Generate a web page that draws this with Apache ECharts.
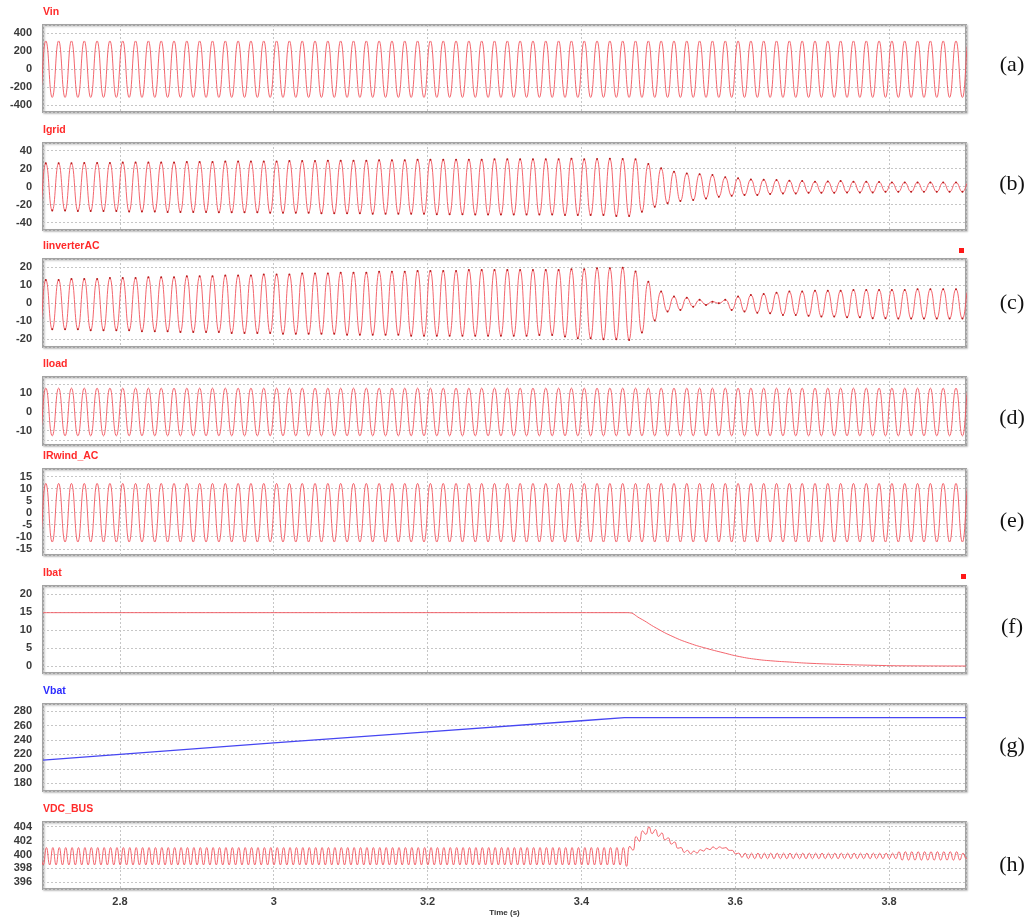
<!DOCTYPE html>
<html>
<head>
<meta charset="utf-8">
<script src="https://cdn.jsdelivr.net/npm/echarts@6/dist/echarts.min.js"></script>
<style>html,body{margin:0;background:#fff}#main{width:1032px;height:922px}</style>
</head>
<body>
<div id="main"></div>
<script>
var chartDom = document.getElementById('main');
var myChart = echarts.init(chartDom);
var option;

// panel names and tags
var panelNames = ['Vin', 'Igrid', 'IinverterAC', 'Iload', 'IRwind_AC', 'Ibat', 'Vbat', 'VDC_BUS'];
var panelTags = ['(a)', '(b)', '(c)', '(d)', '(e)', '(f)', '(g)', '(h)'];

// 60 Hz waveforms: peak and following trough of every cycle, first peak at acStart
var acStart = 2.687;
var acHalf = 1 / 120;

var vinHi = [
  315, 315, 315, 315, 315, 315, 315, 315, 315, 315, 315, 315, 315, 315, 315, 315, 315, 315, 315, 315,
  315, 315, 315, 315, 315, 315, 315, 315, 315, 315, 315, 315, 315, 315, 315, 315, 315, 315, 315, 315,
  315, 315, 315, 315, 315, 315, 315, 315, 315, 315, 315, 315, 315, 315, 315, 315, 315, 315, 315, 315,
  315, 315, 315, 315, 315, 315, 315, 315, 315, 315, 315, 315, 315, 315
];
var vinLo = [
  -312, -312, -312, -312, -312, -312, -312, -312, -312, -312, -312, -312, -312, -312, -312, -312, -312, -312, -312, -312,
  -312, -312, -312, -312, -312, -312, -312, -312, -312, -312, -312, -312, -312, -312, -312, -312, -312, -312, -312, -312,
  -312, -312, -312, -312, -312, -312, -312, -312, -312, -312, -312, -312, -312, -312, -312, -312, -312, -312, -312, -312,
  -312, -312, -312, -312, -312, -312, -312, -312, -312, -312, -312, -312, -312, -312
];

var igridHi = [
  26,
  26, 26, 26, 26.5, 26.5, 26.5, 27, 27, 27, 27,
  27, 27.5, 27.5, 27.5, 28, 28, 28, 28, 28, 28.5,
  28.5, 28.5, 29, 29, 29, 29, 29.5, 29.5, 29.5, 30,
  30, 30, 30, 30, 30, 30.5, 30.5, 30.5, 30.5,
  30.4, 30.4, 31, 30.4, 30.7, 31, 30.7, 30.4,
  25.2, 20.4, 16.7, 14.8, 14, 13, 10.4, 9.3, 8.1, 7.8, 7.4, 6.7, 6.3, 5.6, 5.9, 6.3, 5.6, 5.6, 5.2, 4.8,
  4.8, 4.8, 4.8, 4.8, 4.8,
  4.8
];
var igridLo = [
  -26.5,
  -26.5, -26.5, -27, -27, -27, -27, -27.5, -27.5, -27.5, -28,
  -28, -28, -28, -28.5, -28.5, -28.5, -28.5, -29, -29, -29,
  -29, -29.5, -29.5, -29.5, -29.5, -30, -30, -30, -30, -30,
  -30.5, -30.5, -30.5, -31, -31, -31, -31, -31, -31,
  -31, -31.5, -31.5, -31.5, -31.5, -32.6, -32.6,
  -27.8, -22.2, -18.5, -15.9, -14.8, -13, -11.1, -10, -9.3, -9.3, -8.1, -7.4, -7.4, -6.7, -6.7, -6.7,
  -6.3, -6.3, -6.3, -5.6, -5.6, -5.6, -5.6, -5.6, -5.6, -5.6,
  -5.6
];

var iinvHi = [
  13,
  13, 13, 13.5, 13.5, 13.5, 14, 14, 14, 14.5, 14.5,
  14.5, 15, 15, 15, 15.5, 15.5, 15.5, 16, 16, 16,
  16.5, 16.5, 16.5, 17, 17, 17, 17.5, 17.5, 17.5, 18,
  18, 18, 18, 18.5, 18.5, 18.5, 18.5, 18.5, 18.5,
  18.5, 18.5, 18.9, 18.9, 19.4, 19.4, 19.8, 17.6,
  12, 6.5, 3.7, 3.1, 1.9, 0.9, 1.9, 3.7, 4.6, 5.2, 5.9, 6.5, 6.5, 6.9, 6.9, 6.9, 7.4, 7.4, 7.4, 7.4,
  7.4, 7.8, 7.8, 7.8, 7.8,
  7.8
];
var iinvLo = [
  -14.5,
  -14.5, -14.5, -14.5, -15, -15, -15, -15, -15.5, -15.5, -15.5,
  -16, -16, -16, -16, -16.5, -16.5, -16.5, -16.5, -17, -17,
  -17, -17, -17, -17.5, -17.5, -17.5, -17.5, -17.5, -18, -18,
  -18, -18, -18, -18, -18, -18, -18, -18, -17.6,
  -17.6, -18.5, -19.4, -19.4, -20, -20, -20.4,
  -16.3, -9.6, -4.6, -3.7, -1.9, -0.9, 0, -3.7, -4.6, -5.2, -5.6, -6.5, -6.5, -7, -7.4, -7.4,
  -7.8, -7.8, -8.3, -8.3, -8.5, -8.5, -8.5, -8.5, -8.5, -8.5,
  -8.5
];

var iloadHi = [
  12.8, 12.8, 12.8, 12.8, 12.8, 12.8, 12.8, 12.8, 12.8, 12.8, 12.8, 12.8, 12.8, 12.8, 12.8, 12.8, 12.8, 12.8, 12.8, 12.8,
  12.8, 12.8, 12.8, 12.8, 12.8, 12.8, 12.8, 12.8, 12.8, 12.8, 12.8, 12.8, 12.8, 12.8, 12.8, 12.8, 12.8, 12.8, 12.8, 12.8,
  12.8, 12.8, 12.8, 12.8, 12.8, 12.8, 12.8, 12.8, 12.8, 12.8, 12.8, 12.8, 12.8, 12.8, 12.8, 12.8, 12.8, 12.8, 12.8, 12.8,
  12.8, 12.8, 12.8, 12.8, 12.8, 12.8, 12.8, 12.8, 12.8, 12.8, 12.8, 12.8, 12.8, 12.8
];
var iloadLo = [
  -12.8, -12.8, -12.8, -12.8, -12.8, -12.8, -12.8, -12.8, -12.8, -12.8, -12.8, -12.8, -12.8, -12.8, -12.8, -12.8, -12.8, -12.8, -12.8, -12.8,
  -12.8, -12.8, -12.8, -12.8, -12.8, -12.8, -12.8, -12.8, -12.8, -12.8, -12.8, -12.8, -12.8, -12.8, -12.8, -12.8, -12.8, -12.8, -12.8, -12.8,
  -12.8, -12.8, -12.8, -12.8, -12.8, -12.8, -12.8, -12.8, -12.8, -12.8, -12.8, -12.8, -12.8, -12.8, -12.8, -12.8, -12.8, -12.8, -12.8, -12.8,
  -12.8, -12.8, -12.8, -12.8, -12.8, -12.8, -12.8, -12.8, -12.8, -12.8, -12.8, -12.8, -12.8, -12.8
];

var irwindHi = [
  12.2, 12.2, 12.2, 12.2, 12.2, 12.2, 12.2, 12.2, 12.2, 12.2, 12.2, 12.2, 12.2, 12.2, 12.2, 12.2, 12.2, 12.2, 12.2, 12.2,
  12.2, 12.2, 12.2, 12.2, 12.2, 12.2, 12.2, 12.2, 12.2, 12.2, 12.2, 12.2, 12.2, 12.2, 12.2, 12.2, 12.2, 12.2, 12.2, 12.2,
  12.2, 12.2, 12.2, 12.2, 12.2, 12.2, 12.2, 12.2, 12.2, 12.2, 12.2, 12.2, 12.2, 12.2, 12.2, 12.2, 12.2, 12.2, 12.2, 12.2,
  12.2, 12.2, 12.2, 12.2, 12.2, 12.2, 12.2, 12.2, 12.2, 12.2, 12.2, 12.2, 12.2, 12.2
];
var irwindLo = [
  -12.2, -12.2, -12.2, -12.2, -12.2, -12.2, -12.2, -12.2, -12.2, -12.2, -12.2, -12.2, -12.2, -12.2, -12.2, -12.2, -12.2, -12.2, -12.2, -12.2,
  -12.2, -12.2, -12.2, -12.2, -12.2, -12.2, -12.2, -12.2, -12.2, -12.2, -12.2, -12.2, -12.2, -12.2, -12.2, -12.2, -12.2, -12.2, -12.2, -12.2,
  -12.2, -12.2, -12.2, -12.2, -12.2, -12.2, -12.2, -12.2, -12.2, -12.2, -12.2, -12.2, -12.2, -12.2, -12.2, -12.2, -12.2, -12.2, -12.2, -12.2,
  -12.2, -12.2, -12.2, -12.2, -12.2, -12.2, -12.2, -12.2, -12.2, -12.2, -12.2, -12.2, -12.2, -12.2
];

// DC bus ripple (120 Hz): peak and trough of every ripple cycle
var dcStart = 2.69617;
var dcHalf = 1 / 240;
var vdcHi = [
  401, 401, 401, 401, 401, 401, 401, 401, 401, 401, 401, 401, 401, 401, 401, 401, 401, 401, 401, 401,
  401, 401, 401, 401, 401, 401, 401, 401, 401, 401, 401, 401, 401, 401, 401, 401, 401, 401, 401, 401,
  401, 401, 401, 401, 401, 401, 401, 401, 401, 401, 401, 401, 401, 401, 401, 401, 401, 401, 401, 401,
  401, 401, 401, 401, 401, 401, 401, 401, 401, 401, 401, 401, 401, 401, 401, 401, 401, 401, 401, 401,
  401, 401, 401, 401, 401, 401, 401, 401, 401, 401, 401, 401,
  401.2, 402.6, 403.4, 404.0, 403.6, 403.1, 402.4, 401.8, 401.0, 400.6, 400.5, 400.7, 400.9, 401.1, 401.1, 401.0, 400.6, 400.2,
  400.2, 400.2, 400.2, 400.2, 400.2, 400.2, 400.2, 400.2, 400.2, 400.2, 400.2, 400.2,
  400.2, 400.2, 400.2, 400.2, 400.2, 400.2, 400.2, 400.2, 400.2, 400.2, 400.2, 400.2,
  400.4, 400.4, 400.4, 400.4, 400.4, 400.4, 400.4, 400.4, 400.4, 400.4, 400.2, 400.2
];
var vdcLo = [
  398.5, 398.5, 398.5, 398.5, 398.5, 398.5, 398.5, 398.5, 398.5, 398.5, 398.5, 398.5, 398.5, 398.5, 398.5, 398.5, 398.5, 398.5, 398.5, 398.5,
  398.5, 398.5, 398.5, 398.5, 398.5, 398.5, 398.5, 398.5, 398.5, 398.5, 398.5, 398.5, 398.5, 398.5, 398.5, 398.5, 398.5, 398.5, 398.5, 398.5,
  398.5, 398.5, 398.5, 398.5, 398.5, 398.5, 398.5, 398.5, 398.5, 398.5, 398.5, 398.5, 398.5, 398.5, 398.5, 398.5, 398.5, 398.5, 398.5, 398.5,
  398.5, 398.5, 398.5, 398.5, 398.5, 398.5, 398.5, 398.5, 398.5, 398.5, 398.5, 398.5, 398.5, 398.5, 398.5, 398.5, 398.5, 398.5, 398.5, 398.5,
  398.5, 398.5, 398.5, 398.5, 398.5, 398.5, 398.5, 398.5, 398.5, 398.5, 398.5, 398.3,
  400.6, 401.9, 402.9, 403.0, 402.6, 402.1, 401.5, 400.9, 400.3, 400.1, 400.2, 400.5, 400.7, 400.8, 400.9, 400.6, 400.1, 399.6,
  399.4, 399.4, 399.4, 399.4, 399.4, 399.4, 399.4, 399.4, 399.4, 399.4, 399.4, 399.4,
  399.4, 399.4, 399.4, 399.4, 399.4, 399.4, 399.4, 399.4, 399.4, 399.4, 399.4, 399.4,
  399.2, 399.2, 399.2, 399.2, 399.2, 399.2, 399.2, 399.2, 399.2, 399.2, 399.4, 399.4
];

// battery current and voltage
var ibatTime = [2.7, 3.46, 3.476, 3.4975, 3.519, 3.5408, 3.5625, 3.5841, 3.6058, 3.6275, 3.6491, 3.6708, 3.6926, 3.7359, 3.7792, 3.8226, 3.9];
var ibatValue = [14.8, 14.8, 13.25, 10.5, 8.15, 6.3, 4.9, 3.7, 2.6, 1.85, 1.4, 1.1, 0.8, 0.45, 0.2, 0.05, 0];
var vbatTime = [2.7, 2.8, 3.0, 3.2, 3.4, 3.456, 3.9];
var vbatValue = [212, 220, 236, 251, 266.5, 270.8, 270.8];

function wave(start, half, hi, lo) {
  var pts = [];
  for (var k = 0; k < hi.length; k++) {
    pts.push([start + 2 * k * half, hi[k]]);
    pts.push([start + (2 * k + 1) * half, lo[k]]);
  }
  return pts;
}
function pairs(t, v) {
  return t.map(function (x, i) { return [x, v[i]]; });
}

var RED = '#f2535c';
var BLUE = '#4646f2';
var font = 'Liberation Sans';

// panel layout (pixels) and axis windows
var layout = [
  { top: 25, height: 87, min: -474, max: 492, split: 5, tag: 65 },
  { top: 143, height: 87, min: -48.1, max: 48.6, split: 5, tag: 184 },
  { top: 259, height: 88, min: -24.3, max: 24.6, split: 5, tag: 303 },
  { top: 377, height: 68, min: -17.7, max: 18.75, split: 7, tag: 418, every: 10 },
  { top: 469, height: 86, min: -17.6, max: 18.2, split: 7, tag: 521 },
  { top: 586, height: 87, min: -1.94, max: 22.2, split: 5, tag: 627 },
  { top: 704, height: 87, min: 169.35, max: 289.7, split: 6, tag: 746 },
  { top: 822, height: 67, min: 395.04, max: 404.68, split: 5, tag: 865 }
];

var seriesData = [
  wave(acStart, acHalf, vinHi, vinLo),
  wave(acStart, acHalf, igridHi, igridLo),
  wave(acStart, acHalf, iinvHi, iinvLo),
  wave(acStart, acHalf, iloadHi, iloadLo),
  wave(acStart, acHalf, irwindHi, irwindLo),
  pairs(ibatTime, ibatValue),
  pairs(vbatTime, vbatValue),
  wave(dcStart, dcHalf, vdcHi, vdcLo)
];

var gridLine = { lineStyle: { color: '#c6c6c6', type: [2, 2], width: 1 } };

option = {
  animation: false,
  backgroundColor: '#fff',
  title: layout.map(function (p, i) {
    return {
      text: panelNames[i],
      left: 43,
      top: p.top - 18,
      padding: 0,
      textStyle: { fontSize: 10.5, fontWeight: 'bold', fontFamily: font, color: i === 6 ? '#2b2bff' : '#ff2a2a' }
    };
  }),
  grid: layout.map(function (p) {
    return {
      left: 43, right: 66, top: p.top, height: p.height,
      show: true, backgroundColor: '#fff',
      borderColor: '#a3a3a3', borderWidth: 2,
      shadowColor: 'rgba(0,0,0,0.2)', shadowBlur: 2, shadowOffsetX: 1, shadowOffsetY: 1
    };
  }),
  xAxis: layout.map(function (p, i) {
    var last = i === layout.length - 1;
    return {
      gridIndex: i, type: 'value', min: 2.7, max: 3.9,
      axisLine: { show: false }, axisTick: { show: false },
      axisLabel: {
        show: last, showMinLabel: false, showMaxLabel: false, margin: 7,
        fontSize: 11, fontWeight: 'bold', fontFamily: font, color: '#3a3a3a'
      },
      splitLine: gridLine,
      name: last ? 'Time (s)' : '',
      nameLocation: 'middle', nameGap: 20,
      nameTextStyle: { fontSize: 8, fontWeight: 'bold', fontFamily: font, color: '#333' }
    };
  }),
  yAxis: layout.map(function (p, i) {
    return {
      gridIndex: i, type: 'value', min: p.min, max: p.max, splitNumber: p.split,
      axisLine: { show: false }, axisTick: { show: false },
      axisLabel: {
        showMinLabel: false, showMaxLabel: false, margin: 11,
        fontSize: 11, fontWeight: 'bold', fontFamily: font, color: '#3a3a3a',
        formatter: function (v) { return p.every && v % p.every !== 0 ? '' : String(v); }
      },
      splitLine: gridLine
    };
  }),
  series: seriesData.map(function (d, i) {
    var dots = i === 1 || i === 2;
    return {
      type: 'line', xAxisIndex: i, yAxisIndex: i,
      data: d, smooth: i === 6 ? false : 0.5,
      showSymbol: dots, showAllSymbol: true, symbol: 'circle', symbolSize: 2,
      itemStyle: { color: '#b81c1c' },
      lineStyle: { color: i === 6 ? BLUE : RED, width: i === 6 ? 1.3 : 0.9 },
      silent: true
    };
  }),
  graphic: layout.map(function (p, i) {
    return {
      type: 'text', x: 1012, y: p.tag,
      style: { text: panelTags[i], font: '22px "Liberation Serif"', fill: '#111', align: 'center', verticalAlign: 'middle' }
    };
  }).concat([
    { type: 'rect', shape: { x: 959, y: 248, width: 5, height: 5 }, style: { fill: '#ff1818' } },
    { type: 'rect', shape: { x: 961, y: 574, width: 5, height: 5 }, style: { fill: '#ff1818' } }
  ])
};

option && myChart.setOption(option);
</script>
</body>
</html>
